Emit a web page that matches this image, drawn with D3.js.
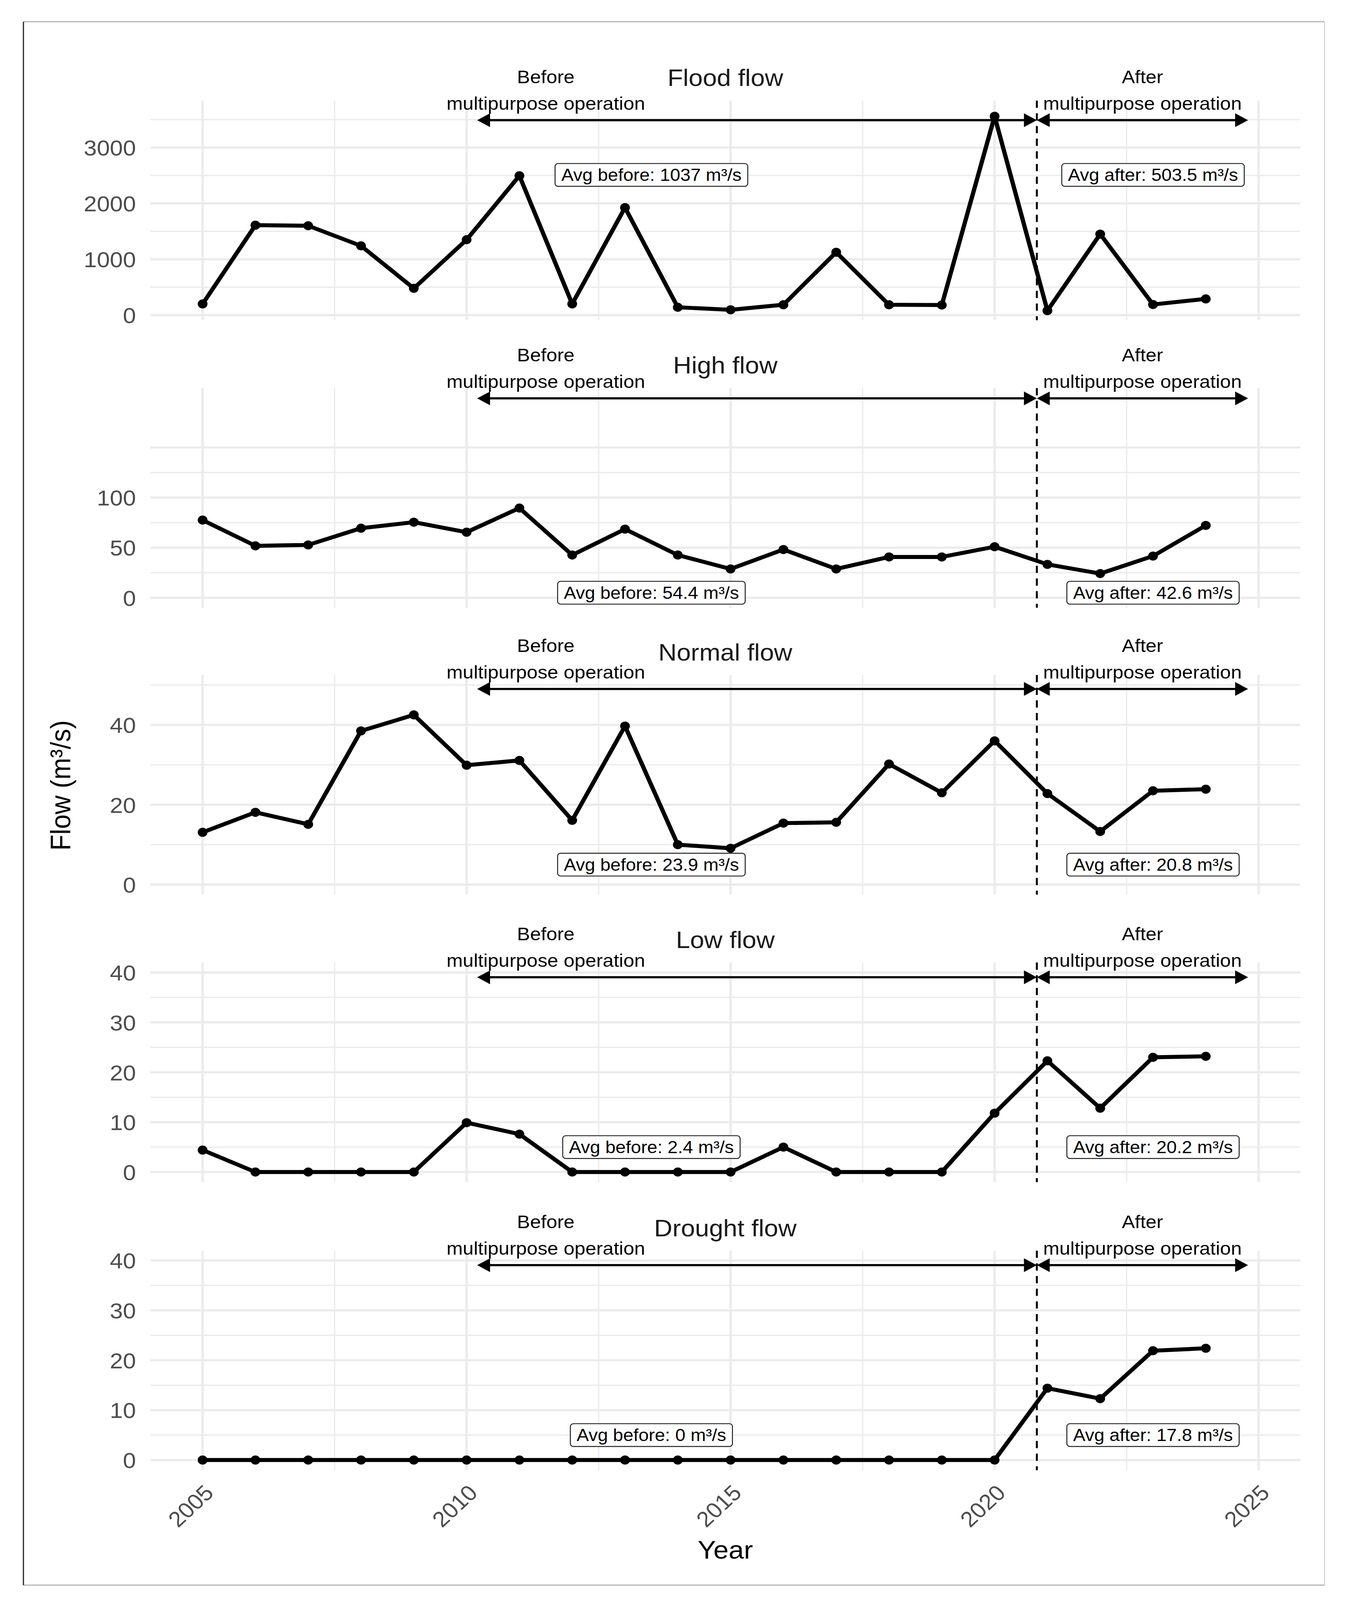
<!DOCTYPE html>
<html><head><meta charset="utf-8">
<script src="https://cdn.jsdelivr.net/npm/d3@7"></script>
<style>html,body{margin:0;padding:0;background:#fff;overflow:hidden;} svg{display:block;width:100vw;height:100vh;}</style>
</head><body>
<svg id="chart" viewBox="0 0 3447 4415" preserveAspectRatio="none"></svg>
<script>
// ---------------- data ----------------
const years = [2005,2006,2007,2008,2009,2010,2011,2012,2013,2014,2015,2016,2017,2018,2019,2020,2021,2022,2023,2024];
const floodFlow   = [200,1610,1600,1240,480,1350,2495,200,1925,140,95,185,1125,185,180,3560,80,1450,190,290];
const highFlow    = [77.5,51.8,52.7,69.4,75.4,65.4,89.5,42.6,68.5,42.6,28.7,48.1,28.7,40.7,40.7,50.9,33.3,24.1,41.6,72.2];
const normalFlow  = [13.1,18.1,15.1,38.5,42.5,29.9,31.1,16.1,39.7,10.0,9.1,15.4,15.6,30.2,23.0,36.0,22.8,13.3,23.5,23.9];
const lowFlow     = [4.4,0,0,0,0,9.9,7.6,0,0,0,0,5.0,0,0,0,11.8,22.3,12.8,23.0,23.2];
const droughtFlow = [0,0,0,0,0,0,0,0,0,0,0,0,0,0,0,0,14.4,12.3,21.9,22.4];
const panelTitles = ["Flood flow","High flow","Normal flow","Low flow","Drought flow"];
const avgBeforeLabels = ["Avg before: 1037 m³/s","Avg before: 54.4 m³/s","Avg before: 23.9 m³/s","Avg before: 2.4 m³/s","Avg before: 0 m³/s"];
const avgAfterLabels  = ["Avg after: 503.5 m³/s","Avg after: 42.6 m³/s","Avg after: 20.8 m³/s","Avg after: 20.2 m³/s","Avg after: 17.8 m³/s"];
const yTickLabels = [[0,1000,2000,3000],[0,50,100],[0,20,40],[0,10,20,30,40],[0,10,20,30,40]];
const xTickLabels = [2005,2010,2015,2020,2025];
const beforeText = ["Before","multipurpose operation"];
const afterText  = ["After","multipurpose operation"];

// ---------------- layout ----------------
const FONT = "'Liberation Sans', Arial, Helvetica, sans-serif";
const plotLeft = 385, plotRight = 3330;
const panelTops = [277.5, 1071, 1862.5, 2656, 3451];
const panelH = 606;
const panelCfg = [
  {values: floodFlow,   domain: [-91, 3841],    major: [0,1000,2000,3000], minor: [500,1500,2500,3500], arrowY: 3490, labelY: 2510},
  {values: highFlow,    domain: [-10, 209.2],   major: [0,50,100,150],     minor: [25,75,125],          arrowY: 199,  labelY: 5},
  {values: normalFlow,  domain: [-2.5, 52.5],   major: [0,20,40],          minor: [10,30,50],           arrowY: 49,   labelY: 5},
  {values: lowFlow,     domain: [-2.03, 42.0],  major: [0,10,20,30,40],    minor: [5,15,25,35],         arrowY: 39.05,labelY: 5},
  {values: droughtFlow, domain: [-2.05, 41.96], major: [0,10,20,30,40],    minor: [5,15,25,35],         arrowY: 39.05,labelY: 5}
];
const xMajor = [2005,2010,2015,2020,2025], xMinor = [2007.5,2012.5,2017.5,2022.5];
const vlineYear = 2020.8, beforeStart = 2010.2, afterEnd = 2024.8;
const beforeTextX = 2011.5, afterTextX = 2022.8, beforeLabelX = 2013.5, afterLabelX = 2023.0;

const svg = d3.select("#chart");
svg.append("rect").attr("width",3447).attr("height",4415).attr("fill","#fff");

const x = d3.scaleLinear().domain([2004.01, 2025.79]).range([plotLeft, plotRight]);
const gridColor = "#ebebeb";

function arrowHead(g, tipX, y, dir) {
  const L = 33, hw = 19;
  g.append("path")
    .attr("d", `M${tipX},${y} L${tipX - dir*L},${y-hw} L${tipX - dir*L},${y+hw} Z`)
    .attr("fill","#000");
}
function doubleArrow(g, x1, x2, y) {
  g.append("line").attr("x1", x1 + 20).attr("x2", x2 - 20).attr("y1", y).attr("y2", y)
    .attr("stroke","#000").attr("stroke-width",6);
  arrowHead(g, x1, y, -1);
  arrowHead(g, x2, y, 1);
}
function labelBox(g, cx, cy, txt) {
  const t = g.append("text").attr("x", cx).attr("y", cy + 16.5)
    .attr("text-anchor","middle").attr("font-family",FONT).attr("font-size",47).attr("fill","#000").text(txt);
  const w = t.node().getComputedTextLength();
  g.insert("rect", () => t.node())
    .attr("x", cx - w/2 - 16).attr("y", cy - 31.5).attr("width", w + 32).attr("height", 63)
    .attr("rx", 8).attr("ry", 8).attr("fill","#fff").attr("stroke","#222").attr("stroke-width",2.5);
}

panelCfg.forEach((p, i) => {
  const top = panelTops[i], bottom = top + panelH;
  const y = d3.scaleLinear().domain(p.domain).range([bottom, top]);
  const g = svg.append("g");

  // grid
  g.selectAll(".hmin").data(p.minor).join("line")
    .attr("x1", plotLeft).attr("x2", plotRight).attr("y1", d => y(d)).attr("y2", d => y(d))
    .attr("stroke", gridColor).attr("stroke-width", 3.5);
  g.selectAll(".vmin").data(xMinor).join("line")
    .attr("x1", d => x(d)).attr("x2", d => x(d)).attr("y1", top).attr("y2", bottom)
    .attr("stroke", gridColor).attr("stroke-width", 3.5);
  g.selectAll(".hmaj").data(p.major).join("line")
    .attr("x1", plotLeft).attr("x2", plotRight).attr("y1", d => y(d)).attr("y2", d => y(d))
    .attr("stroke", gridColor).attr("stroke-width", 6);
  g.selectAll(".vmaj").data(xMajor).join("line")
    .attr("x1", d => x(d)).attr("x2", d => x(d)).attr("y1", top).attr("y2", bottom)
    .attr("stroke", gridColor).attr("stroke-width", 6);

  // y axis labels
  const ax = g.append("g").attr("transform", `translate(${plotLeft},0)`)
    .call(d3.axisLeft(y).tickValues(yTickLabels[i]).tickSize(0).tickPadding(37).tickFormat(d3.format("d")));
  ax.select(".domain").remove();
  ax.selectAll("text").attr("font-family", FONT).attr("font-size", 60).attr("fill", "#4d4d4d").attr("dy","0.36em");

  // dashed vline
  g.append("line").attr("x1", x(vlineYear)).attr("x2", x(vlineYear)).attr("y1", top).attr("y2", bottom)
    .attr("stroke","#000").attr("stroke-width",5).attr("stroke-dasharray","20,15");

  // data line + points
  const pts = years.map((yr, k) => [yr, p.values[k]]);
  g.append("path").datum(pts)
    .attr("d", d3.line().x(d => x(d[0])).y(d => y(d[1])))
    .attr("fill","none").attr("stroke","#000").attr("stroke-width",11).attr("stroke-linejoin","round").attr("stroke-linecap","round");
  g.selectAll(".pt").data(pts).join("circle")
    .attr("cx", d => x(d[0])).attr("cy", d => y(d[1])).attr("r", 12.5).attr("fill","#000");

  // arrows
  const ay = y(p.arrowY);
  doubleArrow(g, x(beforeStart), x(vlineYear), ay);
  doubleArrow(g, x(vlineYear), x(afterEnd), ay);

  // before/after text
  [[beforeText, beforeTextX],[afterText, afterTextX]].forEach(([lines, xx]) => {
    g.append("text").attr("x", x(xx)).attr("y", ay - 102).attr("text-anchor","middle")
      .attr("font-family",FONT).attr("font-size",50).attr("fill","#000").text(lines[0]);
    g.append("text").attr("x", x(xx)).attr("y", ay - 29).attr("text-anchor","middle")
      .attr("font-family",FONT).attr("font-size",50).attr("fill","#000").text(lines[1]);
  });

  // strip title
  g.append("text").attr("x", (plotLeft+plotRight)/2).attr("y", top - 40).attr("text-anchor","middle")
    .attr("font-family",FONT).attr("font-size",65).attr("fill","#1a1a1a").text(panelTitles[i]);

  // avg labels
  labelBox(g, x(beforeLabelX), y(p.labelY), avgBeforeLabels[i]);
  labelBox(g, x(afterLabelX), y(p.labelY), avgAfterLabels[i]);

  // x axis on last panel
  if (i === panelCfg.length - 1) {
    const xa = svg.append("g").attr("transform", `translate(0,${bottom})`)
      .call(d3.axisBottom(x).tickValues(xTickLabels).tickSize(0).tickFormat(d3.format("d")));
    xa.select(".domain").remove();
    xa.selectAll("text").attr("font-family", FONT).attr("font-size", 60).attr("fill", "#4d4d4d")
      .attr("text-anchor","end").attr("y", null).attr("dy", null)
      .attr("transform","translate(31,66) rotate(-45)");
  }
});

// axis titles
svg.append("text").attr("x", (plotLeft+plotRight)/2).attr("y", 4301).attr("text-anchor","middle")
  .attr("font-family",FONT).attr("font-size",70).attr("fill","#000").text("Year");
svg.append("text").attr("transform", `translate(180,${(panelTops[0] + panelTops[4] + panelH)/2}) rotate(-90)`)
  .attr("text-anchor","middle").attr("font-family",FONT).attr("font-size",72).attr("fill","#000").text("Flow (m³/s)");

// outer frame
svg.append("line").attr("x1",60).attr("x2",3392).attr("y1",60).attr("y2",60).attr("stroke","#a0a0a0").attr("stroke-width",2.5);
svg.append("line").attr("x1",60).attr("x2",3392).attr("y1",4374).attr("y2",4374).attr("stroke","#a0a0a0").attr("stroke-width",2.5);
svg.append("line").attr("x1",3392).attr("x2",3392).attr("y1",60).attr("y2",4374).attr("stroke","#cfcfcf").attr("stroke-width",2.5);
svg.append("line").attr("x1",60).attr("x2",60).attr("y1",60).attr("y2",4374).attr("stroke","#222").attr("stroke-width",3);
</script>
</body></html>
